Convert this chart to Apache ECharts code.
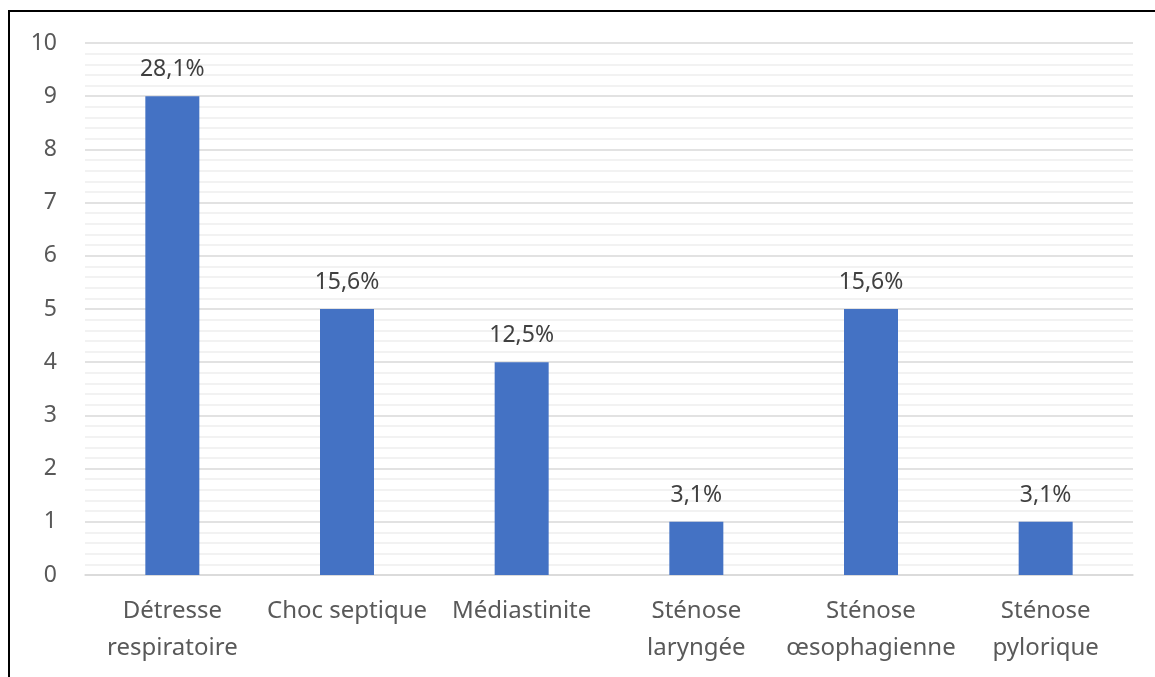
<!DOCTYPE html>
<html>
<head>
<meta charset="utf-8">
<script src="https://cdn.jsdelivr.net/npm/echarts@6/dist/echarts.min.js"></script>
<style>
  html, body { margin: 0; padding: 0; background: #fff; }
  #frame { position: absolute; left: 8px; top: 10px; width: 1160px; height: 680px;
           border-left: 2px solid #000; border-top: 2px solid #000; box-sizing: border-box; }
  #chart { position: absolute; left: 0; top: 0; width: 1155px; height: 677px; }
</style>
</head>
<body>
<div id="frame"></div>
<div id="chart"></div>
<script>
// Complications observed, count per category and share of patients
const categories = ['Détresse\nrespiratoire', 'Choc septique', 'Médiastinite',
                    'Sténose\nlaryngée', 'Sténose\nœsophagienne', 'Sténose\npylorique'];
const counts = [9, 5, 4, 1, 5, 1];
const percentLabels = ['28,1%', '15,6%', '12,5%', '3,1%', '15,6%', '3,1%'];

const FONT = 'Noto Sans';
const chart = echarts.init(document.getElementById('chart'), null, { renderer: 'canvas' });

chart.setOption({
  animation: false,
  grid: { left: 85, right: 22, top: 43, bottom: 102, containLabel: false },
  xAxis: {
    type: 'category',
    data: categories,
    axisLine: { show: true, lineStyle: { color: '#d9d9d9', width: 1.5 } },
    axisTick: { show: false },
    axisLabel: {
      color: '#595959', fontFamily: FONT, fontSize: 24,
      lineHeight: 37, margin: 18, interval: 0
    }
  },
  yAxis: {
    type: 'value',
    min: 0, max: 10, interval: 1,
    axisLine: { show: false },
    axisTick: { show: false },
    axisLabel: { color: '#595959', fontFamily: FONT, fontSize: 23, margin: 28 },
    splitLine: { lineStyle: { color: '#d9d9d9', width: 1.5 } },
    minorTick: { show: false, splitNumber: 5 },
    minorSplitLine: { show: true, lineStyle: { color: '#eeeeee', width: 1.5 } }
  },
  series: [{
    type: 'bar',
    data: counts,
    barWidth: 54,
    itemStyle: { color: '#4472c4' },
    label: {
      show: true,
      position: 'top',
      distance: 15,
      color: '#404040',
      fontFamily: FONT,
      fontSize: 23,
      formatter: p => percentLabels[p.dataIndex]
    }
  }]
});
</script>
</body>
</html>
